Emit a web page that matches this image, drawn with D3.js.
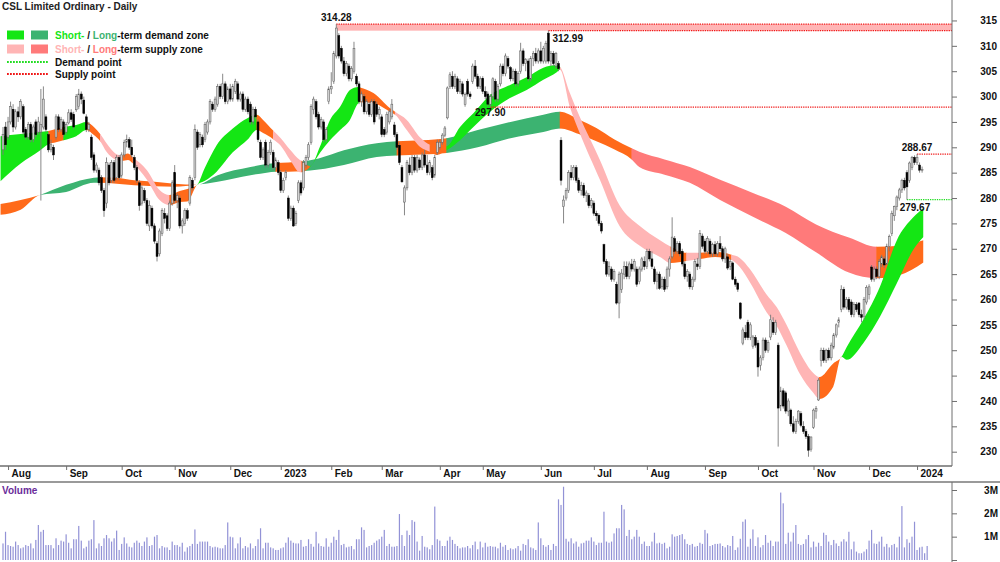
<!DOCTYPE html>
<html>
<head>
<meta charset="utf-8">
<script src="https://cdn.jsdelivr.net/npm/d3@7"></script>
<style>
  body { margin: 0; background: #fff; }
  svg { display: block; font-family: "Liberation Sans", Arial, sans-serif; }
</style>
</head>
<body>
<div id="chart"></div>
<script>
// #region Data: daily candles [open, high, low, close], one small array per month
const jul22 = [[289.5,294,288.5,292.5],[294,295,289.5,290.5]];
const aug22 = [[292,296,291.5,295],[295,299,294.5,298],[297.5,298.5,293,294],[294,297.5,293.5,297],[297,298,295,296],[296,299.5,295.5,299],[298,298.5,292.5,293],[293.5,294,291.5,292],[292,295,291.5,294.5],[294.5,295,291,291.5],[291.5,294.5,291,294],[295,295.5,292,292.5],[293,296,292.5,295],[293,301.5,279.5,294.5],[294,302,293.5,299.5],[296,296.5,293,293.5],[292.5,293,289,289.5],[289.5,291.5,289,290.5],[290,290.5,287.5,288.5],[292,296.5,291.5,296],[296,296.5,293,293.5],[293.5,296,293,295.5],[295,295.5,292,292.5]];
const sep22 = [[293,295,292.5,294.5],[294.8,297.5,294.5,296.8],[296.8,297.5,295,295.5],[296.5,297,293.5,294],[297.4,300.5,297,300],[298,301.5,297.5,300.5],[300.5,301,298.5,299.5],[299.3,300,296.5,296.7],[296,296.5,293,293.5],[293.5,295,293,294.5],[292,292.5,287.5,288],[288.5,289,285,285.5],[285.5,287,285,286.5],[285.5,286,282.5,283],[284,284.5,281,281.5],[281.5,282,276.3,277.5],[279,288,278,287],[286.5,287,282.5,283],[283.5,287.5,283,287],[287,287.5,283,283.5],[284,288.5,283.5,288],[288,288.5,283.5,284]];
const oct22 = [[284.5,289,284,288.5],[288.5,291.5,288,291],[291,292.5,290,291.5],[291.5,292,289.5,290],[290,291.5,288,288.5],[288,288.5,285.5,286],[286,286.5,283,283.5],[283,283.5,277.5,278.5],[279,282.5,278.5,282],[281.5,282,279,279.5],[279.5,280,274.5,275],[274.5,279.5,273.5,278.5],[278,278.5,274,274.5],[274.5,275,271,271.5],[271,271.5,267.5,268.5],[269,274,268.5,273.5],[273,278,272.5,277.5],[277,278,275,276],[276.5,277,273.5,274],[274,279.5,273.5,279],[279,283.5,278.5,283]];
const nov22 = [[285,286.5,279,279.5],[279.5,281,278,280.5],[280,280.5,274,274.5],[274.5,276,273,275.5],[275,278,274.5,277.5],[277.5,278,275.5,276],[279,284.5,278.5,284],[283.5,284,281.5,282],[284,294.5,283.5,293.5],[293,293.5,289.5,290],[290.5,293,290,292.5],[292,292.5,290,290.5],[291.5,295,291,294.5],[293,295.5,292.5,295],[295,299.5,294.5,299],[298.5,299,297,297.5],[297.5,300,297,299.5],[298.5,302.5,298,302],[302,302.5,299.5,300],[300,304.5,299.5,302.5],[302.5,303,298.5,299],[299,302,298.5,301.5]];
const dec22 = [[301.5,302.5,299,299.5],[299.5,302.5,299,302],[301,303.5,300.5,303],[302.5,303,299,299.5],[299.5,301,299,300.5],[300.5,301,297,297.5],[297.5,300,297,299.5],[299.5,300,296.5,297],[298.5,299,294.5,295],[295,298,294.5,297.5],[297.5,298,295.5,296],[295,295.5,291,291.5],[291,291.5,287.5,288],[288,290,287.5,289.5],[291,291.5,286,286.5],[286.5,289.5,286,289],[289,291.5,288.5,291],[289,289.5,285.5,286],[286,288,285.5,287.5],[287,287.5,284.5,285]];
const jan23 = [[285,285.5,281,281.5],[281.5,284,281,283.5],[284,285.5,283.5,285],[280,280.5,275.5,276],[276,278.5,275.5,278],[278,278.5,274.3,274.5],[275,277.5,274.5,277],[279.5,283.5,279,283],[283,283.5,280.5,281],[282,287.5,281.5,287],[286.5,288.5,286,288],[288,291,287.5,290.5],[291,298.5,290.5,298],[297.5,300,296.5,299.5],[299,299.5,295.5,296],[296.5,297,293.5,294],[294,296,293.5,295.5],[295,295.5,291,291.5],[291.5,294,291,293.5],[299,302,298.5,301.5]];
const feb23 = [[301.5,304.8,300.5,302],[303,309,302.5,308.5],[308,314.28,307.5,313.5],[312,312.5,307.5,308],[309.5,310,306.5,307],[307,307.8,304,304.5],[304.5,307,304,306.5],[306,306.5,303,303.5],[303.5,306,303,305.5],[305,310.8,304.5,309.5],[304,304.5,302,302.5],[302.5,303,298.5,299],[299,301,298,300.5],[300,300.5,296.5,297],[297,299.5,296.5,299],[298.5,299,296,296.5],[296.5,299.5,296,299],[299,299.5,294.5,295],[298.5,299,296,296.5],[296.5,298,295.5,297.5]];
const mar23 = [[296,296.5,292,292.5],[293.5,294,292,292.5],[293,297,292.5,296.5],[295,297.5,294.5,297],[296,299.5,295.5,298.5],[294.4,295,292,292.5],[292.5,293,289.5,290],[290.4,291,286.5,287],[286,286.5,283,283.2],[279.2,282.5,276.6,282],[282,287.5,281.5,287],[286.5,288,284.5,285],[285,288.5,284.5,288],[288,288.5,285,285.5],[285.5,288.5,285,288],[287.5,288,285.5,286],[286,289,285.5,288.5],[288.5,289.5,286,286.5],[286.5,288.5,284.5,285],[285,287.5,284.5,287],[286,286.5,283.5,284],[284.5,288.5,284,288],[289,291.5,288.5,291]];
const apr23 = [[290,291.5,289.5,291],[291,292.8,290.5,292.4],[292.4,294.2,292,293.8],[295.8,302,295.5,301.7],[302,304.8,301.5,304.3],[304,305,301.5,302],[302,304.5,301.5,304],[303.5,304,300.5,301],[301,303.5,300.5,303],[302.5,303,300,300.5],[298.4,300.8,298,300.4],[303,303.5,300,300.5],[300.5,301,299.5,300],[303,306.5,302.5,306],[306,307.2,303.5,304],[304,304.5,301.5,302],[302,304,301.5,303.5]];
const may23 = [[303.6,304,300.5,301],[301,302,299.5,300],[300.5,301,298,298.5],[298.5,300.5,297.9,300],[300,303.8,299.5,303.5],[303,303.5,299,299.5],[299.5,302.5,299,302],[302.5,306.5,302,306],[306,306.5,304,304.5],[304.5,308.5,304,308],[307.5,308,305.5,306],[305.7,306,303,303.5],[303.5,305.5,303,305],[305,305.5,302,302.5],[302.5,305,302,304.5],[305,310.6,304.5,309],[309,309.5,306,306.5],[306.5,307.6,305,307.3],[307,307.5,303,303.5],[303.5,308,303,307.5],[307.5,309,306,308.5],[308.5,309.6,306.5,307],[307,309.5,306.5,309]];
const jun23 = [[309,310.8,306.5,307],[307,310,306.5,309.5],[307,311,306.5,310.5],[312.5,312.99,306.5,307],[307,309,306,308.5],[308.5,309,306,306.5],[306,308.8,305.5,308.5],[306.5,307,305,305.5],[291.4,292,282.5,283.5],[278.3,280.5,275,279.6],[280,282,279.5,281.5],[281.5,285.5,281,285],[285,286.5,283.5,284],[284,286.5,283.5,286],[286,286.5,283,283.5],[283.5,284,281,281.5],[281.5,283.2,280.5,282.5],[282.5,283,280,280.5],[280.5,281.5,279.2,281],[280.5,281,278,278.5],[278.5,280,278,279.5]];
const jul23 = [[279,279.5,276.5,277],[277,277.5,275.5,276.5],[276.6,277,274.5,275],[275,275.5,273,273.5],[270.8,271,267,267.5],[267.5,268,264.5,265],[265,267.5,264.5,266.5],[266,266.5,263.5,264],[264,266,263.5,265.5],[263,263.5,259,259.3],[259.3,265.5,256.3,265],[262,266,261.3,265.2],[265,267.5,264,266.5],[266.5,267.5,264,264.5],[264.5,267.5,264,267],[267,268,265.5,266],[266,268,265.5,267.5],[266,266.5,262.5,263],[263.5,266.5,263,266],[266,268.4,265.5,268],[267.5,268.5,265.8,266.5]];
const aug23 = [[266.5,270,266,269.5],[269.5,270,267.5,268],[268,269.5,266,266.5],[266,266.5,263,263.5],[263.5,265.5,262,265],[265,265.5,261.9,262.2],[262.5,264.5,262,264],[264,264.5,261.5,262],[262.5,266.5,262,266],[266,268.5,264.5,268],[268.4,276.2,268,272.3],[272,272.5,269,269.5],[269.5,271.5,269,271],[271,271.5,268.5,269],[269.5,270,266.5,267],[267,267.5,264,264.5],[264.5,266,263.5,265.5],[265,265.5,262,262.5],[262.5,264.5,261.9,264],[264,268,263.5,267.5],[267,268.2,265.8,266.5],[266.5,273.7,266,273],[272.5,273,270,270.5]];
const sep23 = [[271.5,272,269,269.5],[269.5,272.5,269,272],[271.5,272,268.5,269],[269,271.2,268.4,270.8],[270.8,271.5,268.5,269],[269,271.5,268.5,271],[271,272.5,269.5,270],[270,270.5,267.5,268],[268,270.4,267.2,270],[268.4,269,265.8,266.2],[266.5,268,265.8,267.5],[267.2,267.5,263.8,264],[264,264.5,262.5,263],[263.2,263.5,261.5,262],[259.3,259.5,256,256.3],[251.4,254.5,251,254],[253.5,255,252,252.5],[255.5,256,252,252.5],[252.5,255.5,252,255],[250.8,253,250.3,252.6],[252.5,253,250.5,251]];
const oct23 = [[251.4,252,244.8,246.7],[247,249,246,248.5],[248.6,252.5,248,252],[252,252.5,249.5,250],[250,252,249.5,251.5],[252.6,257,252,256],[255.5,256.5,253,253.5],[253.5,256,253,255.5],[251,251.5,231,238.6],[239,242.8,238,242],[242,242.5,238.5,239],[241.6,242,237.5,238],[238,240.5,237,240],[238.2,238.5,235,235.5],[235.5,237,233.6,234],[234,236.5,233.5,236],[236,238.2,235.5,238],[237.5,238,234.8,235.2],[235,236,233.5,234],[234,234.5,232.5,233],[233,233.5,229,230.3],[230.5,233,230,232.9]];
const nov23 = [[234.8,238.5,234.5,238.2],[238,239,236.5,238.5],[240.2,244.5,240,244.1],[248,250.5,246.8,250],[250,250.5,247.5,248],[248,250.3,247.5,250],[250,250.5,248,248.5],[248.5,251.5,248,251],[250.6,253.4,250.2,253],[253,255.3,252.5,255],[255.5,256.5,254.5,256],[258,262.8,257.5,262],[262,262.5,258,258.5],[258.5,260.5,258,260],[260,260.5,257.5,258],[259.5,260,256.5,257],[257,259.5,256.5,259],[259,259.5,257.5,258],[259.3,259.5,256.5,257],[257,258,255.5,256.5],[256.6,260.5,256,260],[259.5,262.8,259,262.4]];
const dec23 = [[261,263,260,262.5],[266.4,266.8,263.5,264],[264,266.5,263.5,266],[266,266.5,264,264.5],[264.5,268,264,267.5],[267,268.8,266.4,268.4],[268,268.5,266.2,266.8],[267,271,266.8,270.5],[270.5,272.8,269.5,272.4],[273,277.5,272.5,277],[276.5,278.5,275.5,278.3],[278.3,280.5,277.6,280.2],[280,282,279.5,281.6],[281.6,283.8,281,283.5],[283.5,284,281.5,282],[285,285.5,279.67,282.2],[283.5,287.2,283,286.9],[286,288.3,285.5,288],[288,288.4,286.5,287]];
const jan24 = [[287,288.67,286.5,288],[286.5,287,285,285.5],[285.5,286.2,285,285.6]];

const monthLabels = ['Aug','Sep','Oct','Nov','Dec','2023','Feb','Mar','Apr','May','Jun','Jul','Aug','Sep','Oct','Nov','Dec','2024'];
const monthCandles = [aug22, sep22, oct22, nov22, dec22, jan23, feb23, mar23, apr23, may23, jun23, jul23, aug23, sep23, oct23, nov23, dec23, jan24];

// daily volume, millions of shares
const volumes = [0.71,1.21,0.64,0.6,0.57,0.79,0.64,0.5,0.54,0.64,0.6,0.71,0.5,0.86,1.5,1.21,1.29,0.64,0.64,0.64,0.5,0.93,0.64,0.83,0.79,1.1,0.74,0.5,0.89,0.89,1.46,0.83,0.5,0.57,0.83,0.89,1.71,0.5,0.71,0.6,0.93,1.07,0.93,0.79,0.93,1.26,0.43,0.69,0.97,0.71,0.57,0.54,0.74,0.83,0.74,0.6,0.79,0.97,0.6,0.64,1.0,1.07,0.5,0.6,0.54,0.54,0.43,0.79,0.64,0.64,0.57,0.74,0.36,0.54,0.6,0.69,1.31,0.69,0.79,0.79,0.79,0.79,0.6,0.54,0.57,0.54,0.5,0.5,0.64,1.61,1.0,0.97,0.5,0.71,0.97,0.5,0.6,0.54,0.71,0.5,0.6,0.89,1.36,0.5,0.74,0.74,0.54,0.5,0.43,0.43,0.5,0.54,0.74,0.97,0.83,0.74,0.71,0.71,0.86,0.57,0.6,0.89,0.69,0.57,1.21,0.71,0.6,0.57,0.93,0.57,0.74,1.0,0.86,1.29,0.64,0.69,0.54,0.57,0.6,0.46,0.89,0.89,1.4,1.29,0.54,0.6,0.64,0.74,0.83,0.89,1.0,1.29,0.6,0.69,0.57,0.57,0.6,1.97,1.07,0.6,1.26,1.07,1.71,1.64,0.79,0.4,1.03,0.57,0.54,0.46,0.64,2.29,0.89,0.83,0.6,0.6,0.83,1.0,0.86,0.69,0.6,0.5,0.54,0.54,0.6,0.5,0.64,0.79,0.46,0.79,0.54,0.74,0.57,0.6,0.57,0.57,0.5,
  0.74,0.57,0.64,0.43,0.5,0.46,0.5,0.6,0.4,0.69,0.64,0.89,0.54,0.5,0.43,1.61,0.93,0.64,0.57,0.64,0.43,0.69,0.6,2.6,2.36,3.14,0.91,0.79,0.93,0.71,0.79,0.57,0.71,0.74,0.83,0.83,0.97,0.79,0.64,0.74,0.74,2.07,0.79,0.74,0.79,1.14,1.36,1.36,2.36,2.17,1.03,1.29,0.89,1.0,1.29,1.0,0.69,0.79,0.6,0.6,0.79,1.17,0.71,0.74,0.69,0.74,0.5,0.57,1.1,1.0,1.03,1.07,1.11,0.89,0.69,0.64,0.69,0.57,0.6,0.74,0.69,1.29,1.14,0.6,0.64,0.69,0.69,0.71,0.6,0.54,0.64,0.6,1.03,0.43,0.54,0.91,1.64,1.74,0.57,0.91,1.31,0.6,0.97,0.54,0.64,1.07,0.74,0.83,0.6,0.79,0.79,2.89,2.43,0.69,1.17,0.79,1.17,1.5,0.69,0.64,0.69,0.89,1.07,0.54,0.79,0.57,0.74,0.6,1.17,1.07,0.79,0.64,0.86,0.71,0.6,0.79,0.89,0.79,1.21,0.46,0.79,0.36,0.29,0.29,0.36,0.46,0.83,1.29,0.71,0.69,0.79,1.0,0.57,0.69,0.54,0.64,0.69,0.54,1.0,2.31,0.54,0.89,0.74,1.0,1.64,0.43,0.54,0.57,0.29,0.6];

// short-term zone: trading-day index, band edges, state (D demand, N neutral, S supply)
const shortDay = [-1,7,14.5,18,21,24,29,33,36,38.5,41,44.5,47,49.5,51.5,57,62,66,70,73,76.7,80,84.6,91,97,100.5,103,107,110,113.7,117.6,118.3,121.6,125.5,129.5,133.5,137.4,140.7,141.4,146.7,153.3,155.3,159.9,165.1,169.1,171.7,175.7,181,186.3,192.9,200.8,207.4,214,219.3,220.6,224.5,228.4,236.4,244.3,252.2,260.2,264.5,270.7,276,282,288.5,291.8,295.8,302.4,306.4,310.3,315.6,320.9,323.3,328.8,332.1,334.1,340.7,347.3,354,360.5,364.5];
const shortHi  = [292.2,292.6,293,293.2,293.6,294,294.4,295,294,292.6,290.8,288.8,288.4,288.8,288,285.5,281.6,280.6,281.4,281.8,282.5,286,290.4,293.7,295.8,296.4,295.4,293.3,291.8,289.5,287.5,287.3,286.3,290.1,295.4,298,301.3,301.9,301.8,300.7,297.7,297,295.4,292,290.5,290,290.2,294,296.7,300.3,302.3,303.8,305.7,306.2,305.9,300.7,296,287.5,278.5,274.5,271.7,270.4,269.2,269.2,269.4,268.8,268.2,266,261,258.5,255,249.5,245.5,244.7,247.4,248.7,250.6,256,262.5,271.7,276.2,278];
const shortLo  = [283.3,286.8,289.3,290.6,291,291.4,292.2,293.4,292.4,291.2,289.1,287.6,287.3,287.5,286.8,283.6,279.6,278.6,279.2,279.3,282.5,283.4,285.2,289,291.6,293.4,292.8,291.6,290.3,287.5,285.1,285.1,286.1,288.9,291.4,293.4,295.4,298.7,298.9,298.7,297,296.4,293.4,290.1,289.1,288.5,289.4,291.4,294,297,299.7,301.3,303.3,304.8,305.3,298,292.8,283.6,274.4,270.6,268.4,267.2,267.6,268,268.4,267.8,266.4,263.4,257.5,254.8,251,245.3,241.6,240.4,242.8,248.7,248.1,251.4,256.6,263.2,269.8,272.3];
const shortZone = ['D','D','D','N','N','D','D','N','N','S','S','S','N','N','S','S','S','N','N','N','D','D','D','D','D','N','N','S','S','S','S','N','D','D','D','D','D','D','N','N','N','S','S','S','N','N','D','D','D','D','D','D','D','D','S','S','S','S','S','S','S','N','S','N','N','S','S','S','S','S','S','S','S','N','N','D','D','D','D','D','D','D'];

// long-term zone
const longDay = [-1,7,14.6,25,36,38.4,45,52,60,68,76.7,85,98,104.4,108,113,118.3,125,135,148,156,166,175.7,188,201,214,220.6,228,235,242,249,252,262,272,284,297,310,322,335,346,355,364.5];
const longHi  = [278.8,279.6,280.6,282.6,284,284.1,284,283.5,283.2,282.8,282.6,284.5,286.1,286.7,286.9,287,287.2,287.8,289.4,290.8,291.2,291.4,291.8,293.4,295,296.4,297,295.5,293.8,291.6,289.8,289.1,287.6,286.1,283.6,281,278.3,274.8,272.2,270.4,270.6,271.7];
const longLo  = [276.7,277.7,280.6,281.2,283,283,282.8,282.5,282.3,282.2,282.6,283.2,284.5,285,285.2,285.2,285.3,285.6,286.5,288.1,288.4,288.6,288.9,290,291.8,293,293.7,292.6,291.2,289.6,287.6,286.1,284.6,283,279.6,276.3,273.1,269.3,265.3,264.2,264.8,267.3];
const longZone = ['N','N','D','D','D','N','N','N','N','N','D','D','D','D','N','N','D','D','D','D','N','N','D','D','D','D','N','N','N','N','S','S','S','S','S','S','S','S','S','N','N','N'];

// supply / demand points: trading-day index, price, kind
const pointDay   = [132, 216, 193, 362, 358];
const pointPrice = [314.28, 312.99, 297.90, 288.67, 279.67];
const pointKind  = ['supply', 'supply', 'supply', 'supply', 'demand'];
const pointLabelPos = ['above', 'belowRight', 'below', 'above', 'belowShift'];
// #endregion

// #region Shared variables
const width = 1000, height = 562;
const plotRight = 952;
const font = '"Liberation Sans", Arial, sans-serif';
const candles = [jul22, ...monthCandles].flat();
let startIdx = jul22.length;
const monthStarts = monthCandles.map(m => { const s = startIdx; startIdx += m.length; return s; });

const zoneColors = {
  short: { D: '#14e614', N: '#ff6a1a', S: '#ffb5b5' },
  long: { D: '#3cb371', N: '#ff6a1a', S: '#ff7a7a' },
};

const x = d3.scaleLinear().domain([0, 364]).range([3, 3 + 364 * 2.525]);
const y = d3.scaleLinear().domain([230, 290]).range([451.7, 147.3]);
const yVol = d3.scaleLinear().domain([0, 3]).range([560, 490]);

const svg = d3.select('#chart').append('svg').attr('width', width).attr('height', height);
const defs = svg.append('defs');
// #endregion

// #region Zone bands
function drawBand(name, days, his, los, zones) {
  const pts = days.map((d, k) => ({ d, hi: his[k], lo: los[k], z: zones[k] }));
  const area = d3.area()
    .x(p => x(p.d))
    .y0(p => y(p.lo))
    .y1(p => y(p.hi))
    .curve(d3.curveMonotoneX);
  const runs = [];
  pts.forEach((p, k) => {
    if (!runs.length || runs[runs.length - 1].z !== p.z) runs.push({ z: p.z, from: p.d, to: p.d });
    runs[runs.length - 1].to = k < pts.length - 1 ? pts[k + 1].d : p.d;
  });
  const g = svg.append('g');
  runs.forEach((r, k) => {
    const id = `clip-${name}-${k}`;
    defs.append('clipPath').attr('id', id)
      .append('rect')
      .attr('x', x(r.from) - 0.3)
      .attr('width', x(r.to) - x(r.from) + 0.6)
      .attr('y', 0).attr('height', 470);
    g.append('path')
      .attr('d', area(pts))
      .attr('fill', zoneColors[name][r.z])
      .attr('clip-path', `url(#${id})`);
  });
}
drawBand('long', longDay, longHi, longLo, longZone);
drawBand('short', shortDay, shortHi, shortLo, shortZone);
// #endregion

// #region Supply / demand points
const levelG = svg.append('g');
// zone between the two nearby highs
levelG.append('rect')
  .attr('x', x(pointDay[0]))
  .attr('y', y(pointPrice[0]))
  .attr('width', plotRight - x(pointDay[0]))
  .attr('height', y(pointPrice[1]) - y(pointPrice[0]))
  .attr('fill', '#ffb5b5');

pointDay.forEach((d, k) => {
  levelG.append('line')
    .attr('x1', x(d)).attr('x2', plotRight)
    .attr('y1', y(pointPrice[k])).attr('y2', y(pointPrice[k]))
    .attr('stroke', pointKind[k] === 'supply' ? '#f01818' : '#22dd22')
    .attr('stroke-width', 1.3)
    .attr('stroke-dasharray', '1.3,1');
});
// #endregion

// #region Candles
const candleG = svg.append('g');
candles.forEach(([o, h, l, c], i) => {
  const cx = x(i);
  candleG.append('line')
    .attr('x1', cx).attr('x2', cx)
    .attr('y1', y(h)).attr('y2', y(l))
    .attr('stroke', '#7a7a7a').attr('stroke-width', 0.9);
  const up = c >= o;
  const top = y(Math.max(o, c));
  const bh = Math.max(0.8, y(Math.min(o, c)) - top);
  candleG.append('rect')
    .attr('x', cx - 0.95).attr('width', 1.9)
    .attr('y', top).attr('height', bh)
    .attr('fill', up ? '#d2d2d2' : '#000')
    .attr('stroke', up ? '#5a5a5a' : '#000')
    .attr('stroke-width', 0.5);
});
// #endregion

// #region Point labels
const labelOffset = {
  above: { dx: 0, dy: -3, anchor: 'middle' },
  below: { dx: 0, dy: 9, anchor: 'middle' },
  belowRight: { dx: 4, dy: 11, anchor: 'start' },
  belowShift: { dx: 8, dy: 11, anchor: 'middle' },
};
pointDay.forEach((d, k) => {
  const o = labelOffset[pointLabelPos[k]];
  svg.append('text')
    .attr('x', x(d) + o.dx)
    .attr('y', y(pointPrice[k]) + o.dy)
    .attr('text-anchor', o.anchor)
    .style('font', `bold 10px ${font}`)
    .attr('fill', '#111')
    .text(pointPrice[k].toFixed(2));
});
// #endregion

// #region Axes
const axisColor = '#6e6e6e';
svg.append('line').attr('x1', plotRight).attr('x2', plotRight).attr('y1', 0).attr('y2', 466)
  .attr('stroke', axisColor);
const yAxis = d3.axisRight(y).tickValues(d3.range(230, 316, 5)).tickSize(5).tickFormat(d3.format('d'));
const gy = svg.append('g').attr('transform', `translate(${plotRight},0)`).call(yAxis);
gy.select('.domain').remove();
gy.selectAll('line').attr('stroke', axisColor);
gy.selectAll('text').attr('x', 45).attr('text-anchor', 'end')
  .style('font', `bold 10px ${font}`).attr('fill', '#111');

svg.append('line').attr('x1', 0).attr('x2', plotRight).attr('y1', 466).attr('y2', 466)
  .attr('stroke', axisColor).attr('stroke-width', 1.5);
svg.append('line').attr('x1', 0).attr('x2', width).attr('y1', 482).attr('y2', 482)
  .attr('stroke', '#9a9a9a').attr('stroke-width', 2);
const xAxis = d3.axisBottom(x).tickValues(monthStarts).tickFormat((d, k) => monthLabels[k]).tickSize(4);
const gx = svg.append('g').attr('transform', 'translate(0,466)').call(xAxis);
gx.select('.domain').remove();
gx.selectAll('line').attr('stroke', axisColor);
gx.selectAll('text').attr('x', 3).attr('y', 4).attr('dy', '0.71em').attr('text-anchor', 'start')
  .style('font', `bold 10px ${font}`).attr('fill', '#111');
// #endregion

// #region Volume
svg.append('g').selectAll('rect')
  .data(volumes)
  .enter()
  .append('rect')
  .attr('x', (d, i) => x(i) - 0.6)
  .attr('width', 1.2)
  .attr('y', d => yVol(d))
  .attr('height', d => yVol(0) - yVol(d))
  .attr('fill', '#9292d6');

svg.append('line').attr('x1', plotRight).attr('x2', plotRight).attr('y1', 482).attr('y2', 562)
  .attr('stroke', axisColor);
const vAxis = d3.axisRight(yVol).tickValues([0, 1, 2, 3]).tickSize(5).tickFormat(d => (d ? `${d}M` : ''));
const gv = svg.append('g').attr('transform', `translate(${plotRight},0)`).call(vAxis);
gv.select('.domain').remove();
gv.selectAll('line').attr('stroke', axisColor);
gv.selectAll('text').attr('x', 46).attr('text-anchor', 'end')
  .style('font', `bold 10px ${font}`).attr('fill', '#111');

svg.append('text').attr('x', 2).attr('y', 494)
  .style('font', `bold 10px ${font}`).attr('fill', '#6a2c9a').text('Volume');
// #endregion

// #region Title and legend
svg.append('text').attr('x', 2).attr('y', 10)
  .style('font', `bold 10px ${font}`).attr('fill', '#222').text('CSL Limited Ordinary - Daily');

const legend = svg.append('g');
const legendRows = [
  { a: zoneColors.short.D, b: zoneColors.long.D, word: 'demand', y: 35 },
  { a: zoneColors.short.S, b: zoneColors.long.S, word: 'supply', y: 49 },
];
legendRows.forEach(r => {
  legend.append('rect').attr('x', 7).attr('y', r.y - 4.5).attr('width', 17).attr('height', 9).attr('fill', r.a);
  legend.append('rect').attr('x', 31).attr('y', r.y - 4.5).attr('width', 17).attr('height', 9).attr('fill', r.b);
  const t = legend.append('text').attr('x', 55).attr('y', r.y + 3.6).style('font', `bold 10px ${font}`).attr('fill', '#111');
  t.append('tspan').attr('fill', r.a).text('Short-');
  t.append('tspan').text(' / ');
  t.append('tspan').attr('fill', r.b).text('Long');
  t.append('tspan').text(`-term ${r.word} zone`);
});
[
  { color: '#22dd22', label: 'Demand point', y: 62 },
  { color: '#f01818', label: 'Supply point', y: 74 },
].forEach(r => {
  legend.append('line').attr('x1', 7).attr('x2', 48).attr('y1', r.y).attr('y2', r.y)
    .attr('stroke', r.color).attr('stroke-width', 2.2).attr('stroke-dasharray', '1.8,1.2');
  legend.append('text').attr('x', 55).attr('y', r.y + 3.6)
    .style('font', `bold 10px ${font}`).attr('fill', '#111').text(r.label);
});
// #endregion
</script>
</body>
</html>
